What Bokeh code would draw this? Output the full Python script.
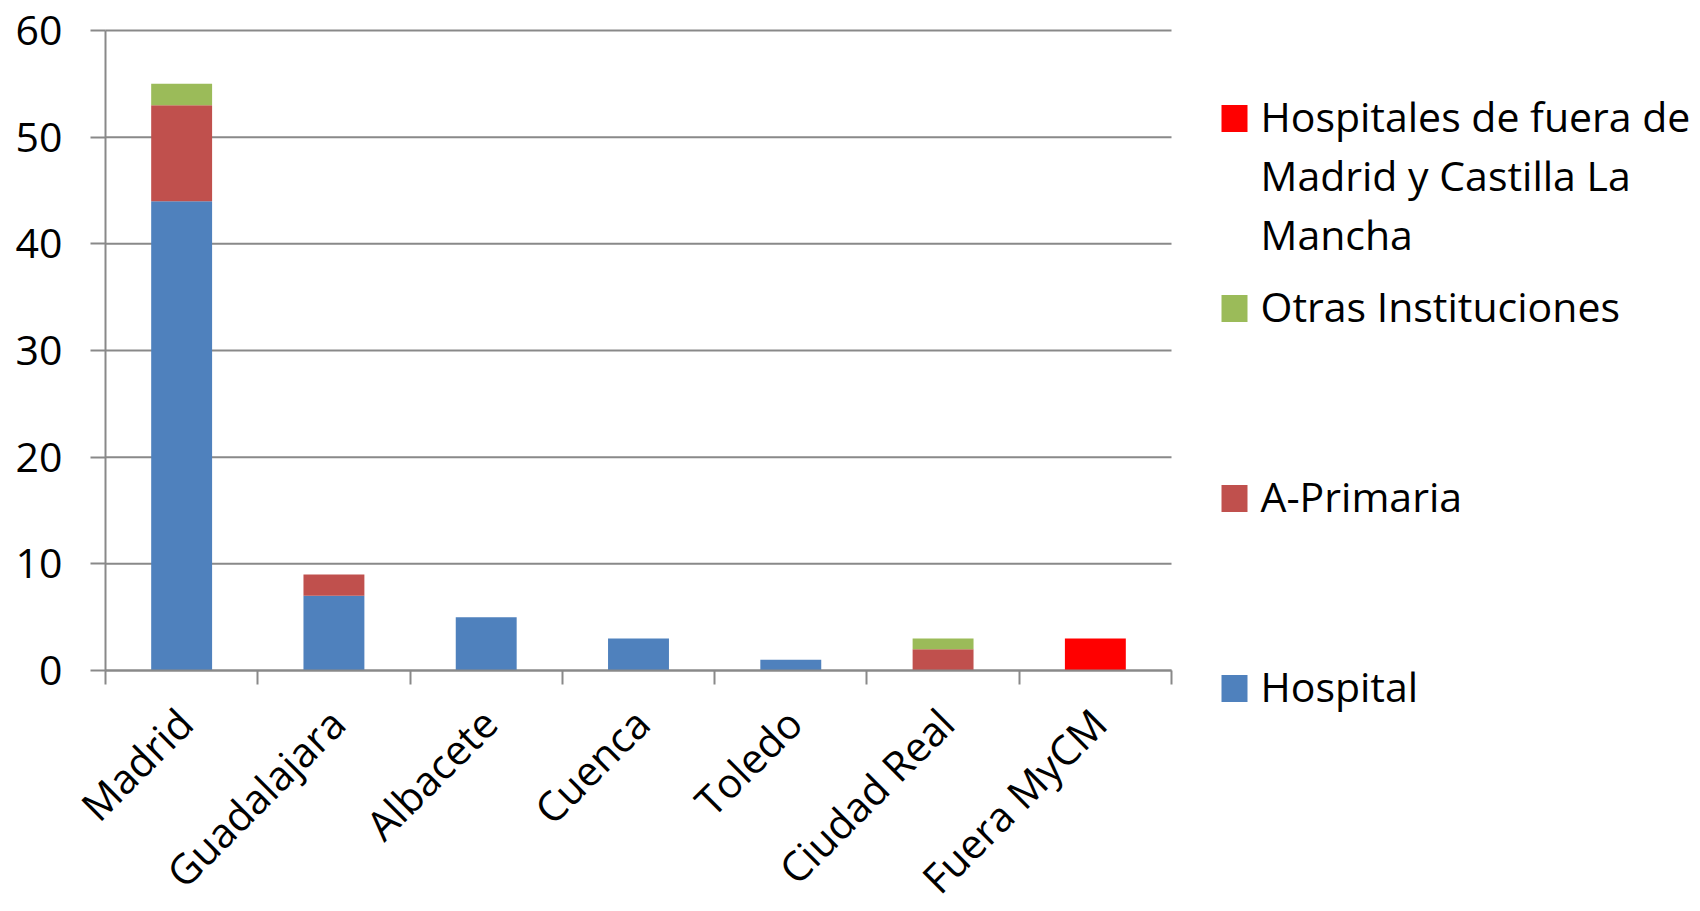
import numpy as np
from bokeh.plotting import figure
from bokeh.models import Range1d, FixedTicker, ColumnDataSource
from bokeh.embed import file_html
from bokeh.resources import INLINE
from bokeh.core.properties import value

# ---------------- data ----------------
categories = ["Madrid", "Guadalajara", "Albacete", "Cuenca", "Toledo", "Ciudad Real", "Fuera MyCM"]
series_keys = ["hospital", "a_primaria", "otras", "fuera"]
series_names = ["Hospital", "A-Primaria", "Otras Instituciones",
                "Hospitales de fuera de\nMadrid y Castilla La\nMancha"]
hospital = [44, 7, 5, 3, 1, 0, 0]
a_primaria = [9, 2, 0, 0, 0, 2, 0]
otras = [2, 0, 0, 0, 0, 1, 0]
fuera = [0, 0, 0, 0, 0, 0, 3]
colors = ["#4F81BD", "#C0504D", "#9BBB59", "#FF0000"]
y_ticks = [0, 10, 20, 30, 40, 50, 60]

FONT = "Open Sans"
FSIZE = "41px"
XFSIZE = "41px"
GRID = "#898989"

# ---------------- layout (pixels) ----------------
W, H = 1698, 910
PL, PR, PT, PB = 105, 1171, 30, 670     # plotting area of the bars (pixels)
n = len(categories)
YMAX = 60
kx = (PR - PL) / n          # px per x unit
ky = (PB - PT) / YMAX       # px per y unit

def dx(px):   # pixel -> data x
    return (px - PL) / kx

def dy(py):   # pixel -> data y
    return (PB - py) / ky

xc = [i + 0.5 for i in range(n)]
src = ColumnDataSource(dict(x=xc, hospital=hospital, a_primaria=a_primaria,
                            otras=otras, fuera=fuera))

p = figure(width=W, height=H, output_backend="svg", toolbar_location=None,
           x_range=Range1d(dx(0), dx(W)), y_range=Range1d(dy(H), dy(0)),
           min_border=0)
p.outline_line_color = None
p.xgrid.visible = False
p.ygrid.visible = False

# horizontal gridlines limited to the category area
p.segment(x0=[0] * len(y_ticks), x1=[n] * len(y_ticks), y0=y_ticks, y1=y_ticks,
          line_color=GRID, line_width=2)

p.vbar_stack(series_keys, x="x", width=0.4, color=colors, line_color=None, source=src)

# y axis drawn at x = 0
yax = p.yaxis[0]
yax.fixed_location = 0
yax.bounds = (0, YMAX)
yax.ticker = FixedTicker(ticks=y_ticks, minor_ticks=[])
yax.axis_line_color = GRID
yax.axis_line_width = 2
yax.major_tick_line_color = GRID
yax.major_tick_line_width = 2
yax.major_tick_out = 15
yax.major_tick_in = 0
yax.minor_tick_line_color = None
yax.major_label_standoff = 28
yax.major_label_text_font = FONT
yax.major_label_text_font_size = FSIZE
yax.major_label_text_color = "black"

# x axis drawn at y = 0: tick marks at category boundaries, labels at centres
shift = 0.02
label_pos = [c + shift for c in xc]
xax = p.xaxis[0]
xax.fixed_location = 0
xax.bounds = (0, n)
xax.ticker = FixedTicker(ticks=label_pos, minor_ticks=list(range(n + 1)))
xax.major_label_overrides = {pos: cat for pos, cat in zip(label_pos, categories)}
xax.major_tick_line_color = None
xax.major_tick_out = 0
xax.major_tick_in = 0
xax.minor_tick_line_color = GRID
xax.minor_tick_line_width = 2
xax.minor_tick_out = 14
xax.minor_tick_in = 0
xax.axis_line_color = GRID
xax.axis_line_width = 2
xax.major_label_orientation = np.pi / 4
xax.major_label_standoff = 31
xax.major_label_text_font = FONT
xax.major_label_text_font_size = XFSIZE
xax.major_label_text_color = "black"

# ---------------- legend ----------------
order = [3, 2, 1, 0]
marker_py = [118, 308, 498, 688]
mx, my, mc = [], [], []
tx, ty, tt = [], [], []
for k, yy in zip(order, marker_py):
    mx.append(dx(1234))
    my.append(dy(yy))
    mc.append(colors[k])
    for j, line in enumerate(series_names[k].split("\n")):
        tx.append(dx(1260))
        ty.append(dy(yy - 3 + j * 59))
        tt.append(line)

p.rect(x=mx, y=my, width=26, height=27, width_units="screen", height_units="screen",
       fill_color=mc, line_color=None)
p.text(x=tx, y=ty, text=tt, text_font=value(FONT), text_font_size=FSIZE,
       text_baseline="alphabetic", text_align="left", text_color="black")

open("out.html", "w").write(file_html(p, INLINE))
